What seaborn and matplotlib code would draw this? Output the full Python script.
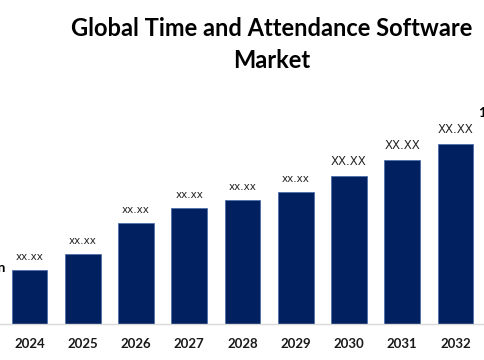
import matplotlib
matplotlib.use("Agg")
import matplotlib.pyplot as plt
import seaborn as sns
import pandas as pd

years = ["2024", "2025", "2026", "2027", "2028", "2029", "2030", "2031", "2032"]
values = [2.7, 3.5, 5.05, 5.8, 6.2, 6.6, 7.4, 8.2, 9.0]
value_labels = ["xx.xx", "xx.xx", "xx.xx", "xx.xx", "xx.xx", "xx.xx", "XX.XX", "XX.XX", "XX.XX"]
title = "Global Time and Attendance Software\nMarket"

sns.set_theme(style="white")
plt.rcParams['font.family'] = ['Lato', 'DejaVu Sans']

df = pd.DataFrame({"year": years, "value": values})

W, H = 485, 360
fig = plt.figure(figsize=(W / 100, H / 100), dpi=100)
ax = fig.add_axes([0, 36 / H, 1, (324 - 100) / H])

sns.barplot(data=df, x="year", y="value", color="#002060", width=0.676,
            saturation=1, edgecolor="#4f6fa8", linewidth=0.6, ax=ax)

ax.set_xlim(-0.554, 8.554)
ax.set_ylim(0, 11.2)
ax.set_xlabel("")
ax.set_ylabel("")
ax.set_yticks([])
for s in ["top", "right", "left"]:
    ax.spines[s].set_visible(False)
ax.spines["bottom"].set_color("#d9d9d9")
ax.spines["bottom"].set_linewidth(1.0)
ax.tick_params(axis="x", length=0, pad=10)
for lbl in ax.get_xticklabels():
    lbl.set_fontweight("bold")
    lbl.set_fontsize(9.5)
    lbl.set_color("#1a1a1a")

for i, (v, t) in enumerate(zip(values, value_labels)):
    fs = 7.5 if t.islower() else 8.5
    ax.annotate(t, (i, v), xytext=(0, 5.5), textcoords="offset points",
                ha="center", va="bottom", fontsize=fs, color="#262626",
                family=["DejaVu Sans"])

fig.text(271.5 / W, 1 - 17 / H, title, ha="center", va="top", fontsize=17,
         fontweight="bold", color="black", linespacing=1.45)

fig.text(5 / W, 1 - 268 / H, "USD x.xx Billion", ha="right", va="center",
         fontsize=10, fontweight="bold", color="black")
fig.text(479 / W, 1 - 113 / H, "1x.xx Billion", ha="left", va="center",
         fontsize=10, fontweight="bold", color="black")

fig.savefig("out.png", dpi=100)
